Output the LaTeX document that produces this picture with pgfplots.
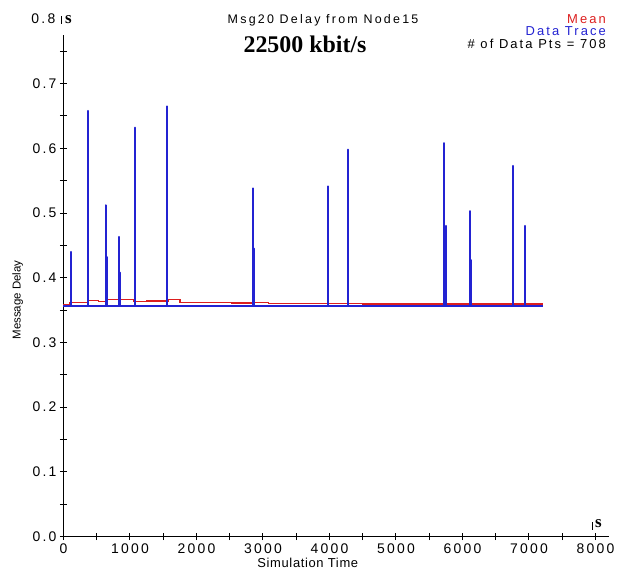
\documentclass[border=0pt]{standalone}
\usepackage{fontspec}
\setmainfont{Liberation Sans}
\newfontfamily\spaced[LetterSpace=16]{Liberation Sans}
\newfontfamily\spacedt[LetterSpace=18]{Liberation Sans}
\newfontfamily\spacedl[LetterSpace=5]{Liberation Sans}
\newfontfamily\serifb{Liberation Serif}
\usepackage{pgfplots}
\pgfplotsset{compat=1.18}
\definecolor{trace}{RGB}{35,35,210}
\definecolor{meanc}{RGB}{220,30,30}
\begin{document}
\begin{tikzpicture}
\useasboundingbox (-63.5bp,-34.5bp) rectangle (563.5bp,536.5bp);
\begin{axis}[
  at={(0,0)}, anchor=south west,
  scale only axis, width=545.3bp, height=501.4bp,
  xmin=0, xmax=8200, ymin=0, ymax=0.775,
  axis lines=left,
  axis line style={-, line width=1.2bp, black},
  xtick={0,1000,2000,3000,4000,5000,6000,7000,8000},
  minor xtick={500,1500,2500,3500,4500,5500,6500,7500},
  ytick={0,0.1,0.2,0.3,0.4,0.5,0.6,0.7},
  minor ytick={0.05,0.15,0.25,0.35,0.45,0.55,0.65,0.75},
  tick align=center, major tick length=7bp, minor tick length=7bp,
  every tick/.style={black, line width=1bp},
  /pgf/number format/assume math mode=true,
  ticklabel style={font=\spaced\fontsize{14}{14}\selectfont, black},
  xticklabel style={/pgf/number format/1000 sep={}},
  yticklabel style={/pgf/number format/fixed, /pgf/number format/fixed zerofill, /pgf/number format/precision=1},
  xlabel={Simulation Time},
  xlabel style={at={(axis description cs:0.448,-0.0628)}, anchor=base, font=\spacedl\fontsize{13}{13}\selectfont},
  ylabel={Message Delay},
  ylabel style={at={(axis description cs:-0.084,0.4717)}, anchor=center, rotate=0, font=\fontsize{11.5}{12}\selectfont},
  title={Msg20 Delay from Node15},
  title style={at={(axis description cs:0.476,1.0116)}, anchor=base, font=\spacedt\fontsize{12.5}{13}\selectfont},
  clip=false,
]
\addplot[meanc, line width=1.5bp, const plot] coordinates {
(0,0.358) (98,0.362) (373,0.365) (523,0.363) (650,0.366) (1050,0.363)
(1250,0.364) (1576,0.366) (1752,0.362) (2529,0.361) (2854,0.362)
(3080,0.360) (4500,0.359) (7215,0.359)};
\addplot[trace, line width=2bp, line join=round] coordinates {
(0,0.357) (108,0.357) (108,0.440) (108,0.357)
(373,0.357) (373,0.658) (373,0.357)
(639,0.357) (639,0.512) (639,0.357) (659,0.357) (659,0.432) (659,0.357)
(835,0.357) (835,0.463) (835,0.357) (854,0.357) (854,0.408) (854,0.357)
(1075,0.357) (1075,0.632) (1075,0.357)
(1561,0.357) (1561,0.665) (1561,0.357)
(2845,0.357) (2845,0.538) (2845,0.357) (2865,0.357) (2865,0.445) (2865,0.357)
(3982,0.357) (3982,0.541) (3982,0.357)
(4274,0.357) (4274,0.598) (4274,0.357)
(5727,0.357) (5727,0.608) (5727,0.357) (5747,0.357) (5747,0.480) (5747,0.357)
(6113,0.357) (6113,0.503) (6113,0.357) (6133,0.357) (6133,0.427) (6133,0.357)
(6764,0.357) (6764,0.573) (6764,0.357)
(6940,0.357) (6940,0.480) (6940,0.357)
(7215,0.357)};
% unit markers and extra texts
\node[anchor=east, font=\spaced\fontsize{14}{14}\selectfont, inner sep=0pt] at (axis cs:0,0.8) [xshift=-8bp] {0.8};
\draw[line width=1bp] (axis cs:0,0.8) ++(-1.5bp,-5bp) -- ++(0,8bp);
\node[anchor=base west, font=\serifb\bfseries\fontsize{17}{17}\selectfont, inner sep=0pt] at (axis description cs:0.0028,1.0241) {s};
\draw[line width=1bp] (axis cs:7950,0) ++(0,6.5bp) -- ++(0,8bp);
\node[anchor=base west, font=\serifb\bfseries\fontsize{17}{17}\selectfont, inner sep=0pt] at (axis cs:7990,0) [yshift=9.5bp] {s};
\node[anchor=base, font=\serifb\bfseries\fontsize{24}{24}\selectfont, inner sep=0pt] at (axis description cs:0.4429,0.9643) {22500 kbit/s};
\node[anchor=base east, font=\spaced\fontsize{13}{13}\selectfont, text=meanc, inner sep=0pt] at (axis description cs:0.9949,1.0241) {Mean};
\node[anchor=base east, font=\spaced\fontsize{13}{13}\selectfont, text=trace, inner sep=0pt] at (axis description cs:0.9949,0.999) {Data Trace};
\node[anchor=base east, font=\spaced\fontsize{13}{13}\selectfont, inner sep=0pt] at (axis description cs:0.9949,0.9733) {\# of Data Pts = 708};
\end{axis}
\end{tikzpicture}
\end{document}
